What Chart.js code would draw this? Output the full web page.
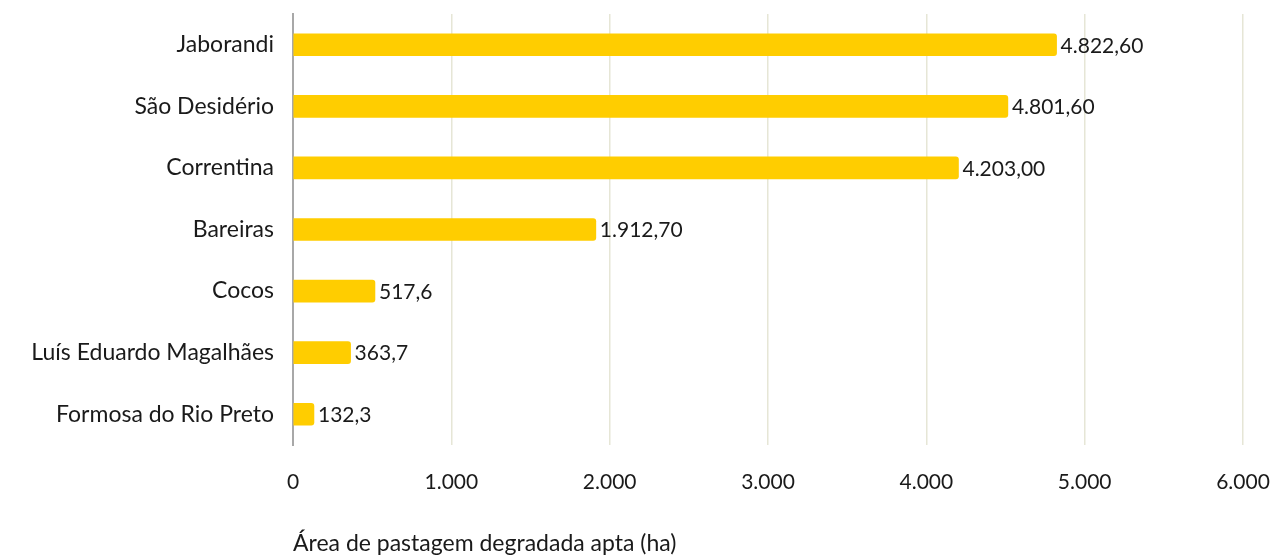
<!DOCTYPE html>
<html>
<head>
<meta charset="utf-8">
<script src="https://cdn.jsdelivr.net/npm/chart.js@4.4.1/dist/chart.umd.min.js"></script>
<style>
  html, body { margin: 0; padding: 0; background: #ffffff; }
  #wrap { width: 1284px; height: 559px; position: relative; }
</style>
</head>
<body>
<div id="wrap"><canvas id="c" width="1284" height="559"></canvas></div>
<script>
const categories = ["Jaborandi", "São Desidério", "Correntina", "Bareiras", "Cocos", "Luís Eduardo Magalhães", "Formosa do Rio Preto"];
const barValues = [4822.6, 4515, 4203.0, 1912.7, 517.6, 363.7, 132.3];
const valueLabels = ["4.822,60", "4.801,60", "4.203,00", "1.912,70", "517,6", "363,7", "132,3"];
const xTicks = [0, 1000, 2000, 3000, 4000, 5000, 6000];
const xTickLabels = ["0", "1.000", "2.000", "3.000", "4.000", "5.000", "6.000"];
const axisTitle = "Área de pastagem degradada apta (ha)";

const FONT = "Lato, 'Open Sans', sans-serif";

const valueLabelPlugin = {
  id: 'valueLabels',
  afterDatasetsDraw(chart) {
    const ctx = chart.ctx;
    const meta = chart.getDatasetMeta(0);
    ctx.save();
    ctx.font = "21px " + FONT;
    ctx.fillStyle = "#1a1a1a";
    ctx.textAlign = "left";
    ctx.textBaseline = "middle";
    meta.data.forEach((bar, i) => {
      ctx.fillText(valueLabels[i], bar.x + 4, bar.y + 1);
    });
    ctx.restore();
  }
};

new Chart(document.getElementById('c'), {
  type: 'bar',
  data: {
    labels: categories,
    datasets: [{
      data: barValues,
      backgroundColor: '#FFCD00',
      borderRadius: 3,
      borderSkipped: 'start',
      barThickness: 22
    }]
  },
  options: {
    indexAxis: 'y',
    responsive: false,
    animation: false,
    events: [],
    layout: { padding: { top: 14, right: 41, bottom: 0, left: 0 } },
    plugins: {
      legend: { display: false },
      tooltip: { enabled: false }
    },
    scales: {
      x: {
        min: 0,
        max: 6000,
        afterFit(scale) { scale.height = 114; scale.paddingLeft = 0; scale.paddingRight = 0; },
        afterBuildTicks(scale) { scale.ticks = xTicks.map(v => ({ value: v })); },
        ticks: {
          padding: 25,
          maxRotation: 0,
          color: '#1a1a1a',
          font: { family: FONT, size: 21 },
          callback(value, index) { return xTickLabels[index]; }
        },
        grid: { color: '#e6e6d6', lineWidth: 1.5, drawTicks: false },
        border: { display: false },
        title: {
          display: true,
          text: axisTitle,
          align: 'start',
          color: '#1a1a1a',
          font: { family: FONT, size: 23 },
          padding: { top: 0, bottom: 2 }
        }
      },
      y: {
        afterFit(scale) { scale.width = 293; scale.paddingTop = 0; scale.paddingBottom = 0; },
        ticks: {
          padding: 19,
          color: '#1a1a1a',
          font: { family: FONT, size: 23 }
        },
        grid: { display: false, drawTicks: false },
        border: { display: true, color: '#a8a8a8', width: 2 }
      }
    }
  },
  plugins: [valueLabelPlugin]
});
</script>
</body>
</html>
